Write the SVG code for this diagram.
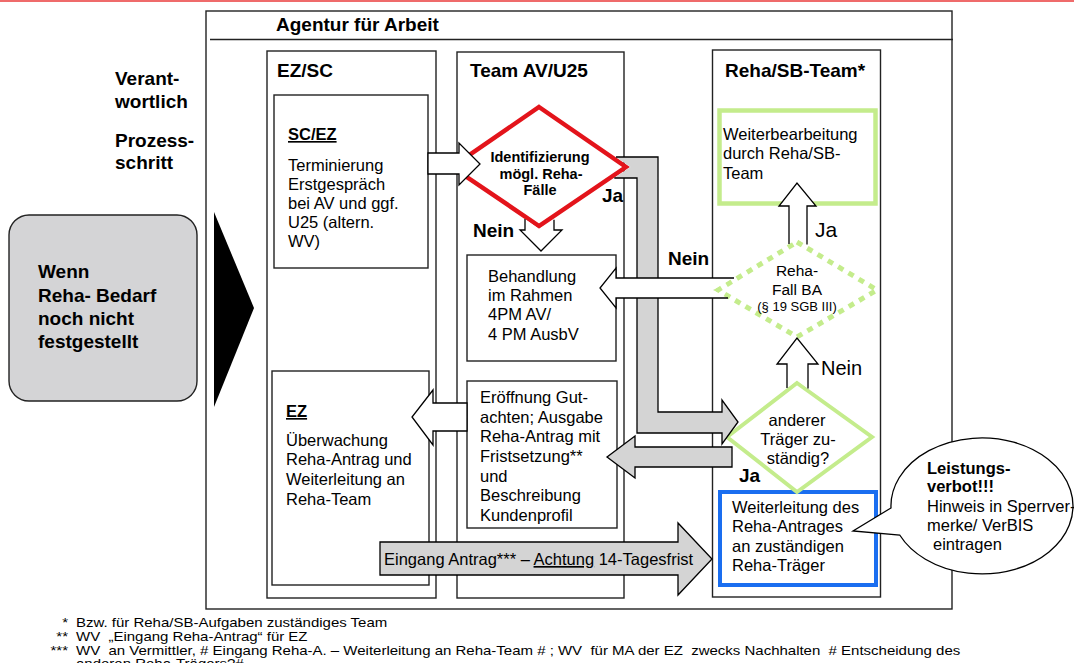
<svg xmlns="http://www.w3.org/2000/svg" width="1074" height="663" viewBox="0 0 1074 663">
<defs>
<style>
text{font-family:"Liberation Sans",Arial,Helvetica,sans-serif;fill:#000}
.h{font-size:19px;font-weight:bold}
.n{font-size:16.5px}
.b{font-weight:bold}
.ln{fill:none;stroke:#222;stroke-width:1.4}
.wb{fill:#fff;stroke:#222;stroke-width:1.4}
.wa{fill:#fff;stroke:none}
.ga{fill:#d4d4d4;stroke:none}
.ol{fill:none;stroke:#000;stroke-width:1.3}
.wf{fill:#fff;stroke:#000;stroke-width:1.3}
.gf{fill:#d4d4d4;stroke:#000;stroke-width:1.3}
.fn{font-size:15px;white-space:pre}
.c{text-anchor:middle}
.u{text-decoration:underline}
</style>
</defs>
<rect width="1074" height="663" fill="#fff"/>
<rect x="0" y="0" width="1074" height="2" fill="#ef6b6b"/>

<g id="agentur">
<rect x="206" y="11" width="746" height="598" class="wb"/>
<line x1="210" y1="39.5" x2="953" y2="39.5" class="ln"/>
<text x="276" y="31" class="h">Agentur für Arbeit</text>
</g>

<g id="zeilenkoepfe">
<text x="115" y="85" class="h">Verant-</text>
<text x="115" y="108" class="h">wortlich</text>
<text x="115" y="147" class="h">Prozess-</text>
<text x="115" y="169" class="h">schritt</text>
</g>

<g id="bedarf">
<rect x="9" y="215" width="188" height="186" rx="20" fill="#d4d4d6" stroke="#222" stroke-width="1.4"/>
<text x="38" y="278" class="h">Wenn</text>
<text x="38" y="302" class="h">Reha- Bedarf</text>
<text x="38" y="325" class="h">noch nicht</text>
<text x="38" y="348" class="h">festgestellt</text>
</g>

<g id="pfeil-start">
<polygon points="214,212 254,308 214,407" fill="#000"/>
</g>

<g id="col-ezsc">
<rect x="267" y="51" width="169" height="547" class="wb"/>
<text x="277" y="76.5" class="h">EZ/SC</text>
</g>
<g id="col-team">
<rect x="457" y="52" width="167" height="546" class="wb"/>
<text x="470" y="76.5" class="h">Team AV/U25</text>
</g>
<g id="col-reha">
<rect x="712.5" y="50" width="168" height="547" class="wb"/>
<text x="725" y="77" class="h">Reha/SB-Team*</text>
</g>

<g id="sc-ez">
<rect x="274" y="95" width="154" height="173" class="wb"/>
<text x="288" y="140" class="b u" font-size="16.5">SC/EZ</text>
<text x="288" y="171" class="n">Terminierung</text>
<text x="288" y="190" class="n">Erstgespräch</text>
<text x="288" y="209" class="n">bei AV und ggf.</text>
<text x="288" y="228" class="n">U25 (altern.</text>
<text x="288" y="247" class="n">WV)</text>
</g>

<g id="ez">
<rect x="272" y="371" width="157" height="214" class="wb"/>
<text x="286" y="417" class="b u" font-size="16.5">EZ</text>
<text x="286" y="446" class="n">Überwachung</text>
<text x="286" y="465" class="n">Reha-Antrag und</text>
<text x="286" y="485" class="n">Weiterleitung an</text>
<text x="286" y="505" class="n">Reha-Team</text>
</g>

<g id="behandlung">
<rect x="467" y="255" width="149" height="106" class="wb"/>
<text x="488" y="281.5" class="n">Behandlung</text>
<text x="488" y="300.5" class="n">im Rahmen</text>
<text x="488" y="320" class="n">4PM AV/</text>
<text x="488" y="339.5" class="n">4 PM AusbV</text>
</g>

<g id="eroeffnung">
<rect x="467" y="381" width="150" height="147" class="wb"/>
<text x="480" y="403" class="n">Eröffnung Gut-</text>
<text x="480" y="422.5" class="n">achten; Ausgabe</text>
<text x="480" y="442" class="n">Reha-Antrag mit</text>
<text x="480" y="461.5" class="n">Fristsetzung**</text>
<text x="480" y="481.5" class="n">und</text>
<text x="480" y="501" class="n">Beschreibung</text>
<text x="480" y="520.5" class="n">Kundenprofil</text>
</g>

<g id="identifizierung">
<polygon points="539,107 626,167 539,226 452,167" fill="#fff" stroke="#e3141b" stroke-width="4.5"/>
<text x="540" y="161.5" class="b c" font-size="14.5">Identifizierung</text>
<text x="541" y="178.5" class="b c" font-size="14.5">mögl. Reha-</text>
<text x="540" y="195" class="b c" font-size="14.5">Fälle</text>
</g>

<g id="weiterbearbeitung">
<rect x="719.5" y="110.5" width="156" height="93" fill="#fff" stroke="#c4ec8c" stroke-width="4.5"/>
<text x="723" y="140" class="n">Weiterbearbeitung</text>
<text x="723" y="158.5" class="n">durch Reha/SB-</text>
<text x="723" y="178.5" class="n">Team</text>
</g>

<g id="rehafall">
<polygon points="797,242 877,290 797,337 718,290" fill="#fff" stroke="#c4ec8c" stroke-width="5" stroke-dasharray="6 6"/>
<text x="797" y="276" class="c" font-size="15.5">Reha-</text>
<text x="797" y="295" class="c" font-size="15.5">Fall BA</text>
<text x="797" y="310.5" class="c" font-size="13">(§ 19 SGB III)</text>
</g>

<g id="weiterleitung">
<rect x="720" y="492" width="156" height="93" fill="#fff" stroke="#1a6ef0" stroke-width="4"/>
<text x="732" y="512.5" class="n">Weiterleitung des</text>
<text x="732" y="531.5" class="n">Reha-Antrages</text>
<text x="732" y="551.5" class="n">an zuständigen</text>
<text x="732" y="570.5" class="n">Reha-Träger</text>
</g>

<g id="traeger">
<polygon points="797,383 872,437 797,492 727,437" fill="#fff" stroke="#c4ec8c" stroke-width="4"/>
<text x="797" y="426" class="n c">anderer</text>
<text x="798" y="445" class="n c">Träger zu-</text>
<text x="798" y="464" class="n c">ständig?</text>
</g>

<g id="leistungsverbot">
<path d="M 899.7,535 A 91 68 0 1 0 891,508 L 853,531 Z" fill="#fff" stroke="#000" stroke-width="1.3" stroke-linejoin="miter"/>
<text x="927" y="473.5" class="b" font-size="16.5">Leistungs-</text>
<text x="927" y="492" class="b" font-size="16.5">verbot!!!</text>
<text x="927" y="512" class="n">Hinweis in Sperrver-</text>
<text x="927" y="531" class="n">merke/ VerBIS</text>
<text x="933" y="550" class="n">eintragen</text>
</g>

<g id="connectors">
<!-- Ja: Identifizierung -> anderer Traeger (grey L) -->
<polygon class="ga" points="616,157 658,157 658,412 722,412 722,400 738,422 722,444 722,433 637,433 637,178 614.3,178 630.5,167"/>
<polyline class="ol" points="616,157 658,157 658,412 722,412 722,400 738,422 722,444 722,433 637,433 637,178 614.3,178"/>
<!-- SC/EZ -> Identifizierung -->
<polygon class="wf" points="428,153 459,153 459,143 480,164 459,185 459,174 428,174"/>
<!-- Nein: Identifizierung -> Behandlung -->
<polygon class="wa" points="525,219 525,230 520,230 541,251 562,230 554,230 554,219.8 539,229"/>
<polyline class="ol" points="525,219 525,230 520,230 541,251 562,230 554,230 554,219.8"/>
<!-- Nein: Reha-Fall -> Behandlung -->
<polygon class="wa" points="616,268 600,288 616,308 616,298 726.5,298 713,290 733,278 616,278"/>
<polyline class="ol" points="734,278 616,278 616,268 600,288 616,308 616,298 728,298"/>
<!-- Ja: anderer Traeger -> Eroeffnung -->
<polygon class="gf" points="732,447 635,447 635,436 607,457 635,478 635,467 732,467"/>
<!-- Eroeffnung -> EZ -->
<polygon class="wf" points="467,403 433,403 433,390 412,417 433,445 433,431 467,431"/>
<!-- Ja: Reha-Fall -> Weiterbearbeitung -->
<polygon class="wa" points="789,244 789,206 779,206 797,183 816,206 807,206 807,244.5 797,239"/>
<polyline class="ol" points="789,244 789,206 779,206 797,183 816,206 807,206 807,244.5"/>
<!-- Nein: anderer Traeger -> Reha-Fall -->
<polygon class="wa" points="787,388 787,364 777,364 797,338 818,364 808,364 808,388.5 797,380"/>
<polyline class="ol" points="787,388 787,364 777,364 797,338 818,364 808,364 808,388.5"/>
<!-- Eingang Antrag -> Weiterleitung -->
<polygon class="gf" points="380,542 678,542 678,523 712,559 678,595 678,575 380,575"/>
<text x="384" y="565" class="n">Eingang Antrag*** – <tspan class="u">Achtung</tspan> 14-Tagesfrist</text>
<text x="473" y="237" class="h">Nein</text>
<text x="602" y="202" class="h">Ja</text>
<text x="668" y="265" class="h">Nein</text>
<text x="815" y="237" font-size="21">Ja</text>
<text x="821" y="375" font-size="20">Nein</text>
<text x="739" y="482" class="h">Ja</text>
</g>

<g id="fussnoten">
<text class="fn" text-anchor="end" transform="translate(68,627) scale(1,0.85)">*</text>
<text class="fn" transform="translate(76,627) scale(1,0.85)">Bzw. für Reha/SB-Aufgaben zuständiges Team</text>
<text class="fn" text-anchor="end" transform="translate(68,641) scale(1,0.85)">**</text>
<text class="fn" transform="translate(76,641) scale(1,0.85)">WV  „Eingang Reha-Antrag“ für EZ</text>
<text class="fn" text-anchor="end" transform="translate(68,655) scale(1,0.85)">***</text>
<text class="fn" transform="translate(76,655) scale(1,0.85)">WV  an Vermittler, # Eingang Reha-A. – Weiterleitung an Reha-Team # ; WV  für MA der EZ  zwecks Nachhalten  # Entscheidung des</text>
<text class="fn" transform="translate(76,668) scale(1,0.85)">anderen Reha-Trägers?#</text>
</g>
</svg>
